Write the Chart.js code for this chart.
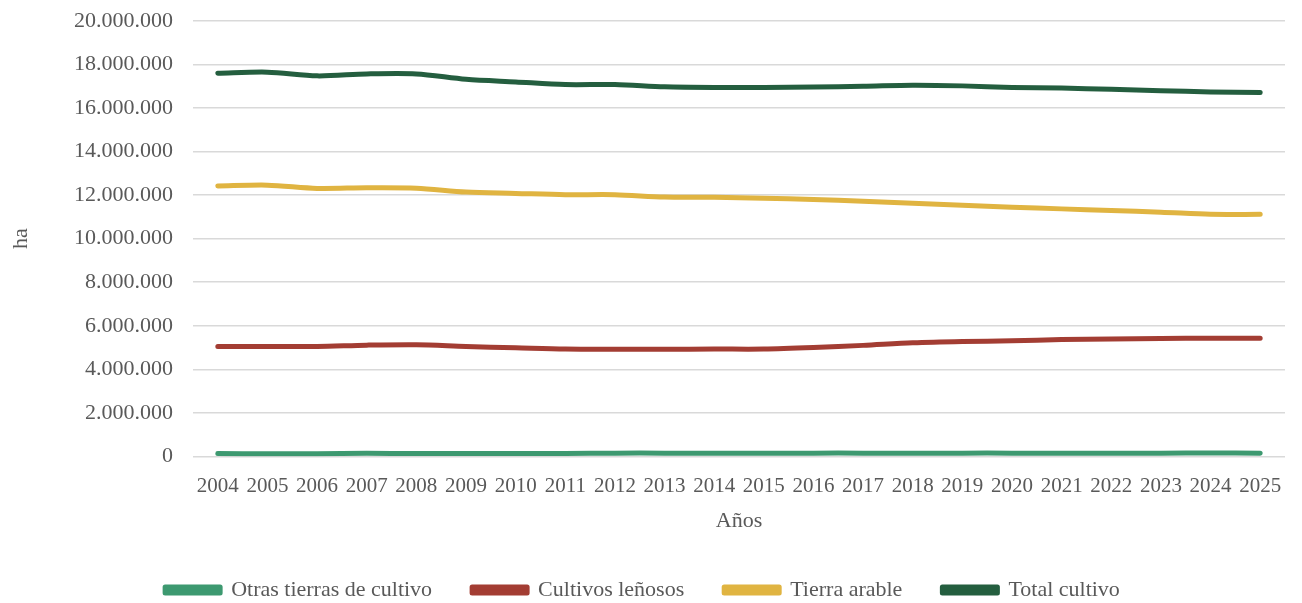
<!DOCTYPE html>
<html>
<head>
<meta charset="utf-8">
<script src="https://cdn.jsdelivr.net/npm/chart.js@4.4.1/dist/chart.umd.min.js"></script>
<style>
html,body{margin:0;padding:0;background:#fff;}
#wrap{width:1302px;height:603px;position:relative;}
</style>
</head>
<body>
<div id="wrap"><canvas id="c" width="1302" height="603"></canvas></div>
<script>
const years = ['2004','2005','2006','2007','2008','2009','2010','2011','2012','2013','2014','2015','2016','2017','2018','2019','2020','2021','2022','2023','2024','2025'];
const otrasTierras = [130000,120000,120000,140000,130000,130000,130000,130000,150000,150000,150000,150000,150000,150000,140000,150000,150000,140000,150000,150000,160000,150000];
const cultivosLenosos = [5050000,5050000,5050000,5110000,5130000,5050000,4990000,4930000,4920000,4920000,4930000,4930000,5000000,5100000,5220000,5280000,5310000,5370000,5390000,5420000,5430000,5430000];
const tierraArable = [12420000,12460000,12310000,12340000,12320000,12140000,12080000,12020000,12020000,11910000,11900000,11860000,11800000,11720000,11630000,11540000,11450000,11370000,11290000,11220000,11120000,11120000];
const totalCultivo = [17600000,17650000,17480000,17570000,17570000,17320000,17200000,17080000,17080000,16980000,16950000,16950000,16970000,17000000,17050000,17020000,16950000,16920000,16860000,16800000,16740000,16710000];
const yTicks = [0,2000000,4000000,6000000,8000000,10000000,12000000,14000000,16000000,18000000,20000000];

const FONT = "'Liberation Serif', 'DejaVu Serif', serif";
const TXT = '#595959';
function fmt(v){ return v.toLocaleString('de-DE'); }
function ds(label, data, color){
  return {label, data, borderColor: color, backgroundColor: color, borderWidth: 5,
    pointRadius: 0, pointHoverRadius: 0, tension: 0.3, borderCapStyle: 'round', borderJoinStyle: 'round', fill: false};
}
new Chart(document.getElementById('c'), {
  type: 'line',
  data: {
    labels: years,
    datasets: [
      ds('Otras tierras de cultivo', otrasTierras, '#3D9970'),
      ds('Cultivos leñosos', cultivosLenosos, '#A33D33'),
      ds('Tierra arable', tierraArable, '#E0B441'),
      ds('Total cultivo', totalCultivo, '#245E3F')
    ]
  },
  options: {
    responsive: false,
    animation: false,
    devicePixelRatio: 1,
    layout: {padding: {top: 21, right: 17, left: 0, bottom: -8}},
    plugins: {
      legend: {
        position: 'bottom',
        labels: {font: {family: FONT, size: 22}, color: TXT, boxWidth: 55, boxHeight: 6, padding: 40}
      },
      tooltip: {enabled: false}
    },
    scales: {
      x: {
        offset: true,
        grid: {display: false},
        border: {display: false},
        ticks: {font: {family: FONT, size: 21}, color: TXT, maxRotation: 0, autoSkip: false, padding: 9},
        title: {display: true, text: 'Años', font: {family: FONT, size: 22}, color: TXT, padding: {top: 0, bottom: 5}}
      },
      y: {
        min: 0, max: 20000000,
        afterBuildTicks: s => { s.ticks = yTicks.map(v => ({value: v})); },
        afterFit: s => { s.width = 193; s.paddingTop = 0; s.paddingBottom = 0; },
        grid: {color: '#d9d9d9', lineWidth: 1.5, drawTicks: false},
        border: {display: false},
        ticks: {font: {family: FONT, size: 22}, color: TXT, padding: 20, callback: v => fmt(v)},
        title: {display: true, text: 'ha', font: {family: FONT, size: 22}, color: TXT, padding: {top: 8, bottom: 0}}
      }
    }
  }
});
</script>
</body>
</html>
